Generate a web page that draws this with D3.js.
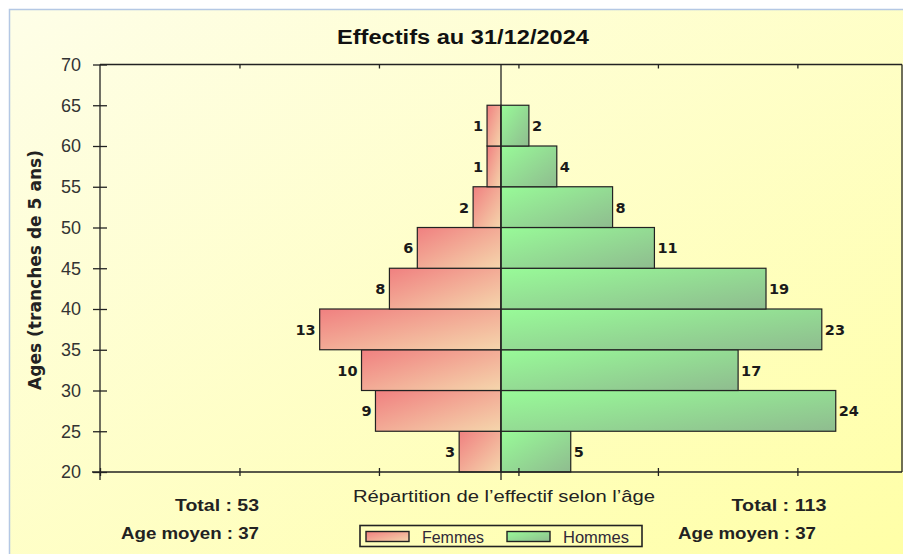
<!DOCTYPE html>
<html lang="fr">
<head>
  <meta charset="UTF-8">
  <title>Effectifs au 31/12/2024</title>
  <script src="https://cdn.jsdelivr.net/npm/d3@7"></script>
  <style>
    body { margin: 0; background: #fff; }
    text { font-family: "Liberation Sans", Arial, sans-serif; }
  </style>
</head>
<body>
  <svg id="chart" width="903" height="554"></svg>
  <script>
    // tranches d'age (borne basse)
    let ages = [20, 25, 30, 35, 40, 45, 50, 55, 60];
    let femmes = [3, 9, 10, 13, 8, 6, 2, 1, 1];
    let hommes = [5, 24, 17, 23, 19, 11, 8, 4, 2];
    let yTicks = [20, 25, 30, 35, 40, 45, 50, 55, 60, 65, 70];
    let xTicks = [-28.75, -18.75, -8.75, 1.25, 11.25, 21.25];
    let totaux = {femmes: 53, hommes: 113};
    let ageMoyen = {femmes: 37, hommes: 37};

    let svg = d3.select('#chart');
    let mLeft = 100, mRight = 902, mTop = 64.5, mBottom = 472;

    let x = d3.scaleLinear().domain([-28.75, 28.75]).range([mLeft, mRight]);
    let y = d3.scaleLinear().domain([20, 70]).range([mBottom, mTop]);

    let defs = svg.append('defs');
    function grad(id, c1, c2, x2, y2) {
      let g = defs.append('linearGradient').attr('id', id)
        .attr('x1', 0).attr('y1', 0).attr('x2', x2).attr('y2', y2);
      g.append('stop').attr('offset', '0%').attr('stop-color', c1);
      g.append('stop').attr('offset', '100%').attr('stop-color', c2);
    }
    grad('bg', '#fefee8', '#ffffa6', 1, 1);
    grad('gF', '#f08080', '#f5d6ac', 1, 1);
    grad('gH', '#98fb98', '#8fbc8f', 1, 1);

    // fond
    svg.append('rect').attr('x', 9).attr('y', 9).attr('width', 903).attr('height', 554)
      .attr('fill', 'url(#bg)');
    svg.append('path').attr('d', 'M9.5,554V9.5H903').attr('fill', 'none')
      .attr('stroke', '#b4c8e4').attr('stroke-width', 1.5);

    // titre
    svg.append('text').attr('x', 463).attr('y', 44).attr('text-anchor', 'middle')
      .attr('font-size', 20).attr('font-weight', 'bold').attr('fill', '#111')
      .attr('textLength', 252).attr('lengthAdjust', 'spacingAndGlyphs')
      .text('Effectifs au 31/12/2024');

    let bh = y(20) - y(25);

    svg.append('g').selectAll('rect')
      .data(ages)
      .join('rect')
      .attr('x', (d, i) => x(-femmes[i]))
      .attr('y', d => y(d + 5))
      .attr('width', (d, i) => x(0) - x(-femmes[i]))
      .attr('height', bh)
      .attr('fill', 'url(#gF)')
      .attr('stroke', '#222').attr('stroke-width', 1.2);

    svg.append('g').selectAll('rect')
      .data(ages)
      .join('rect')
      .attr('x', x(0))
      .attr('y', d => y(d + 5))
      .attr('width', (d, i) => x(hommes[i]) - x(0))
      .attr('height', bh)
      .attr('fill', 'url(#gH)')
      .attr('stroke', '#222').attr('stroke-width', 1.2);

    // étiquettes des barres
    svg.append('g').selectAll('text')
      .data(ages)
      .join('text')
      .attr('x', (d, i) => x(-femmes[i]) - 4)
      .attr('y', d => y(d + 2.5) + 5.5)
      .attr('text-anchor', 'end')
      .style('font-family', '"DejaVu Sans", sans-serif')
      .attr('font-size', 14.5).attr('font-weight', 'bold').attr('fill', '#1a1a1a')
      .text((d, i) => femmes[i]);

    svg.append('g').selectAll('text')
      .data(ages)
      .join('text')
      .attr('x', (d, i) => x(hommes[i]) + 3)
      .attr('y', d => y(d + 2.5) + 5.5)
      .style('font-family', '"DejaVu Sans", sans-serif')
      .attr('font-size', 14.5).attr('font-weight', 'bold').attr('fill', '#1a1a1a')
      .text((d, i) => hommes[i]);

    // axes
    let axes = svg.append('g').attr('stroke', '#222').attr('stroke-width', 1.3);
    axes.append('line').attr('x1', mLeft - 8).attr('x2', mRight).attr('y1', mBottom).attr('y2', mBottom);
    axes.append('line').attr('x1', mLeft).attr('x2', mRight).attr('y1', mTop).attr('y2', mTop);
    axes.append('line').attr('x1', mLeft).attr('x2', mLeft).attr('y1', mTop).attr('y2', mBottom + 8);
    axes.append('line').attr('x1', mRight).attr('x2', mRight).attr('y1', mTop).attr('y2', mBottom);
    axes.append('line').attr('x1', x(0)).attr('x2', x(0)).attr('y1', mTop).attr('y2', mBottom + 8);

    let yAxis = d3.axisLeft(y).tickValues(yTicks).tickSize(7).tickPadding(12);
    let gy = svg.append('g').attr('transform', `translate(${mLeft},0)`).call(yAxis);
    gy.select('.domain').remove();
    gy.selectAll('.tick line').attr('x2', 7).attr('x1', -7).attr('stroke', '#222').attr('stroke-width', 1.3);
    gy.selectAll('.tick text').attr('font-size', 18).attr('fill', '#333')
      .attr('textLength', 20).attr('lengthAdjust', 'spacingAndGlyphs')
      .style('font-family', '"Liberation Sans", Arial, sans-serif');

    let gxb = svg.append('g').attr('transform', `translate(0,${mBottom})`)
      .call(d3.axisBottom(x).tickValues(xTicks).tickSize(4).tickFormat(''));
    gxb.select('.domain').remove();
    gxb.selectAll('.tick line').attr('y1', -4).attr('stroke', '#222').attr('stroke-width', 1.3);

    let gxt = svg.append('g').attr('transform', `translate(0,${mTop})`)
      .call(d3.axisBottom(x).tickValues(xTicks.slice(1)).tickSize(4).tickFormat(''));
    gxt.select('.domain').remove();
    gxt.selectAll('.tick line').attr('stroke', '#222').attr('stroke-width', 1.3);

    // titre axe Y
    svg.append('text')
      .attr('transform', 'translate(41,270) rotate(-90)')
      .attr('text-anchor', 'middle')
      .style('font-family', '"DejaVu Sans", sans-serif')
      .attr('font-size', 17).attr('font-weight', 'bold').attr('fill', '#222')
      .attr('textLength', 240).attr('lengthAdjust', 'spacingAndGlyphs')
      .text('Ages (tranches de 5 ans)');

    // textes du bas
    let foot = svg.append('g').attr('fill', '#222');
    foot.append('text').attr('x', 504).attr('y', 502).attr('text-anchor', 'middle')
      .attr('font-size', 17).attr('textLength', 302).attr('lengthAdjust', 'spacingAndGlyphs')
      .text('Répartition de l\u2019effectif selon l\u2019âge');
    let stat = [
      {x: 217, y: 511, t: 'Total : ' + totaux.femmes, w: 84},
      {x: 190, y: 539, t: 'Age moyen : ' + ageMoyen.femmes, w: 138},
      {x: 779, y: 511, t: 'Total : ' + totaux.hommes, w: 95},
      {x: 747, y: 539, t: 'Age moyen : ' + ageMoyen.hommes, w: 138}
    ];
    foot.selectAll('.stat').data(stat).join('text').attr('class', 'stat')
      .attr('x', d => d.x).attr('y', d => d.y).attr('text-anchor', 'middle')
      .attr('font-size', 17).attr('font-weight', 'bold')
      .attr('textLength', d => d.w).attr('lengthAdjust', 'spacingAndGlyphs')
      .text(d => d.t);

    // légende
    let leg = svg.append('g');
    leg.append('rect').attr('x', 360).attr('y', 525.5).attr('width', 282).attr('height', 21)
      .attr('fill', 'none').attr('stroke', '#222').attr('stroke-width', 1.6);
    let items = [{n: 'Femmes', f: 'url(#gF)', x: 366, w: 62}, {n: 'Hommes', f: 'url(#gH)', x: 507, w: 66}];
    items.forEach(it => {
      leg.append('rect').attr('x', it.x).attr('y', 531.5).attr('width', 43).attr('height', 10)
        .attr('fill', it.f).attr('stroke', '#222').attr('stroke-width', 1.4);
      leg.append('text').attr('x', it.x + 56).attr('y', 542.5).attr('font-size', 16)
        .attr('textLength', it.w).attr('lengthAdjust', 'spacingAndGlyphs')
        .attr('fill', '#302838').text(it.n);
    });
  </script>
</body>
</html>
